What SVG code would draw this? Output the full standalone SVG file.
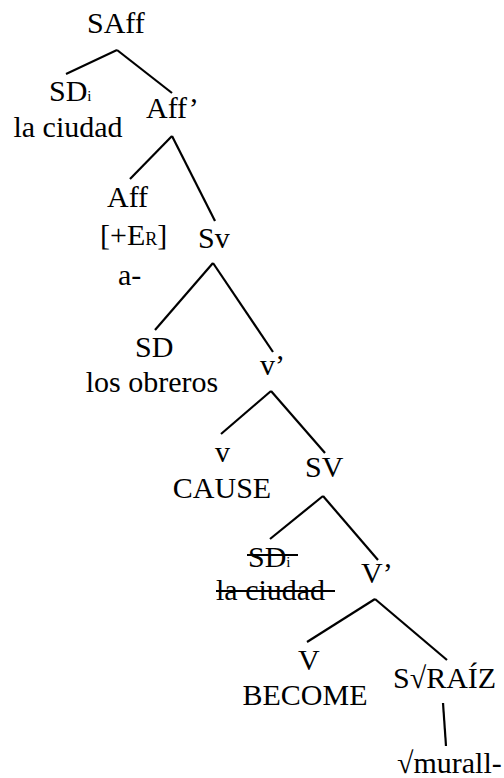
<svg xmlns="http://www.w3.org/2000/svg" width="504" height="778" viewBox="0 0 504 778">
<style>
text{font-family:'Liberation Serif','Times New Roman',Times,serif;font-size:30px;fill:#000}
.sub{font-size:15px}
.sc{font-size:18px}
.m{text-anchor:middle}
#edges line{stroke:#000;stroke-width:2.2;stroke-linecap:butt}
.strike{stroke:#000;stroke-width:2}
</style>
<rect width="504" height="778" fill="#fff"/>
<g id="edges">
<line x1="117" y1="50" x2="66" y2="74"/>
<line x1="117" y1="50" x2="172" y2="93"/>
<line x1="172" y1="136" x2="130" y2="179"/>
<line x1="172" y1="136" x2="215" y2="221"/>
<line x1="213" y1="263" x2="155" y2="330"/>
<line x1="213" y1="263" x2="273" y2="352"/>
<line x1="271" y1="391" x2="221" y2="434"/>
<line x1="271" y1="391" x2="325" y2="453"/>
<line x1="323" y1="496" x2="270" y2="539"/>
<line x1="323" y1="496" x2="378" y2="560"/>
<line x1="375" y1="599" x2="307" y2="642"/>
<line x1="375" y1="599" x2="447" y2="660"/>
<line x1="443" y1="703" x2="446" y2="746"/>
</g>
<g id="SAff"><text x="87" y="33">SAff</text></g>
<g id="SDi"><text x="49" y="101">SD<tspan class="sub">i</tspan></text><text class="m" x="68" y="137">la ciudad</text></g>
<g id="AffBar"><text x="146" y="118">Aff’</text></g>
<g id="Aff"><text x="107" y="207">Aff</text><text x="100" y="245">[+E<tspan class="sc">R</tspan>]</text><text x="118" y="285">a-</text></g>
<g id="Sv"><text x="198" y="248">Sv</text></g>
<g id="SD"><text x="135" y="357">SD</text><text class="m" x="152" y="392">los obreros</text></g>
<g id="vBar"><text x="260" y="375">v’</text></g>
<g id="v"><text x="215" y="462">v</text><text class="m" x="222" y="498">CAUSE</text></g>
<g id="SV"><text x="305" y="477">SV</text></g>
<g id="SDi2"><text x="248" y="567">SD<tspan class="sub">i</tspan></text><text x="216" y="600">la ciudad</text>
<line class="strike" x1="247" y1="555" x2="298" y2="555"/><line class="strike" x1="216" y1="591" x2="335" y2="591"/></g>
<g id="VBar"><text x="361" y="583">V’</text></g>
<g id="V"><text x="298" y="670">V</text><text class="m" x="305" y="705">BECOME</text></g>
<g id="SRaiz"><text x="393" y="688">S√RAÍZ</text></g>
<g id="murall"><text x="397" y="773">√murall-</text></g>
</svg>
